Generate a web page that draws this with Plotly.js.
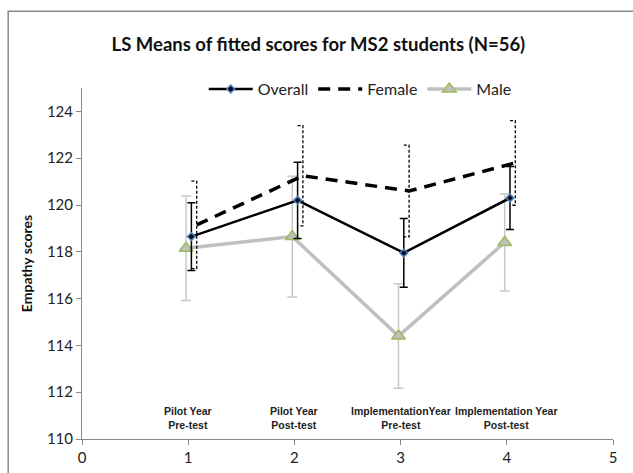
<!DOCTYPE html>
<html>
<head>
<meta charset="utf-8">
<script src="https://cdn.plot.ly/plotly-3.0.1.min.js"></script>
<style>
html,body{margin:0;padding:0;background:#fff;}
#chart{width:633px;height:473px;}
</style>
</head>
<body>
<div id="chart"></div>
<script>
// ---- data ----
const positions = [1, 2, 3, 4];
const categories = ["Pilot Year<br>Pre-test", "Pilot Year<br>Post-test", "ImplementationYear<br>Pre-test", "Implementation Year<br>Post-test"];
const overall    = [118.65, 120.20, 117.95, 120.30];
const overallErr = [1.45, 1.63, 1.47, 1.35];
const female     = [119.15, 121.25, 120.60, 121.80];
const femaleErr  = [1.87, 2.14, 1.96, 1.81];
const male       = [118.15, 118.65, 114.40, 118.40];
const maleErr    = [2.23, 2.58, 2.23, 2.07];
const xTicks = [0, 1, 2, 3, 4, 5];
const yTicks = [110, 112, 114, 116, 118, 120, 122, 124];

// small horizontal offsets between series (as in the original)
const maleX    = positions.map(p => p - 0.02);
const overallX = positions.map(p => p + 0.03);
const femaleX  = positions.map(p => p + 0.08);

// dotted error bars for Female (built from the data)
const fbx = [], fby = [];
femaleX.forEach((x, i) => {
  const hi = female[i] + femaleErr[i], lo = female[i] - femaleErr[i];
  fbx.push(x - 0.05, x, x, x - 0.05, null);
  fby.push(hi, hi, lo, lo, null);
});

const traces = [
  {
    x: maleX, y: male, name: "Male", type: "scatter", mode: "lines+markers",
    legendrank: 3,
    line: {color: "#BFBFBF", width: 3.5},
    marker: {symbol: "triangle-up", size: 12, color: "#BFBFBF", line: {color: "#9BBB59", width: 1.5}},
    error_y: {type: "data", array: maleErr, visible: true, color: "#C8C8C8", thickness: 1.5, width: 5}
  },
  {
    x: fbx, y: fby, type: "scatter", mode: "lines", showlegend: false, hoverinfo: "skip",
    line: {color: "#000", width: 1.3, dash: "3px,2px"}
  },
  {
    x: femaleX, y: female, name: "Female", type: "scatter", mode: "lines",
    legendrank: 2,
    line: {color: "#000", width: 3.5, dash: "12px,8px"}
  },
  {
    x: overallX, y: overall, name: "Overall", type: "scatter", mode: "lines+markers",
    legendrank: 1,
    line: {color: "#000", width: 2.5},
    marker: {symbol: "diamond", size: 6, color: "#0a0a1a", line: {color: "#4F81BD", width: 1.5}},
    error_y: {type: "data", array: overallErr, visible: true, color: "#000", thickness: 1.5, width: 4}
  }
];

const annotations = categories.map((c, i) => ({
  x: positions[i], y: 110, xref: "x", yref: "y", yanchor: "bottom", yshift: 6,
  text: "<b>" + c + "</b>", showarrow: false,
  font: {family: "Liberation Sans, Arial, sans-serif", size: 10.5, color: "#222"}
}));

const layout = {
  width: 633, height: 473,
  margin: {l: 82, r: 20, t: 88, b: 34},
  paper_bgcolor: "#fff", plot_bgcolor: "#fff",
  font: {family: "Lato, sans-serif", color: "#222"},
  title: {text: "<b>LS Means of fitted scores for MS2 students (N=56)</b>",
          font: {family: "Lato, sans-serif", size: 18.5, color: "#111"},
          x: 0.503, xanchor: "center", xref: "container", y: 0.905, yanchor: "middle"},
  xaxis: {range: [0, 5], tickvals: xTicks, ticktext: xTicks.map(String),
          showgrid: false, zeroline: false, showline: true, linecolor: "#888", linewidth: 1,
          ticks: "outside", ticklen: 5, tickcolor: "#888",
          tickfont: {family: "Lato, sans-serif", size: 15, color: "#222"}},
  yaxis: {range: [110, 125], tickvals: yTicks, ticktext: yTicks.map(String),
          showgrid: false, zeroline: false, showline: true, linecolor: "#888", linewidth: 1,
          ticks: "outside", ticklen: 5, tickcolor: "#888",
          tickfont: {family: "Lato, sans-serif", size: 15, color: "#222"},
          title: {text: "<b>Empathy scores</b>", font: {family: "Lato, sans-serif", size: 14, color: "#111"}, standoff: 10}},
  showlegend: true,
  legend: {orientation: "h", x: 0.524, xanchor: "center", y: 0.997, yanchor: "middle",
           itemwidth: 44,
           font: {family: "Lato, sans-serif", size: 16, color: "#222"}, bgcolor: "rgba(0,0,0,0)"},
  annotations: annotations,
  shapes: [{type: "rect", xref: "paper", yref: "paper", x0: -0.139, x1: 1.4, y0: -0.3, y1: 1.219,
            line: {color: "#888", width: 1.5}, fillcolor: "rgba(0,0,0,0)", layer: "below"}]
};

Plotly.newPlot("chart", traces, layout, {displayModeBar: false, staticPlot: true});
</script>
</body>
</html>
